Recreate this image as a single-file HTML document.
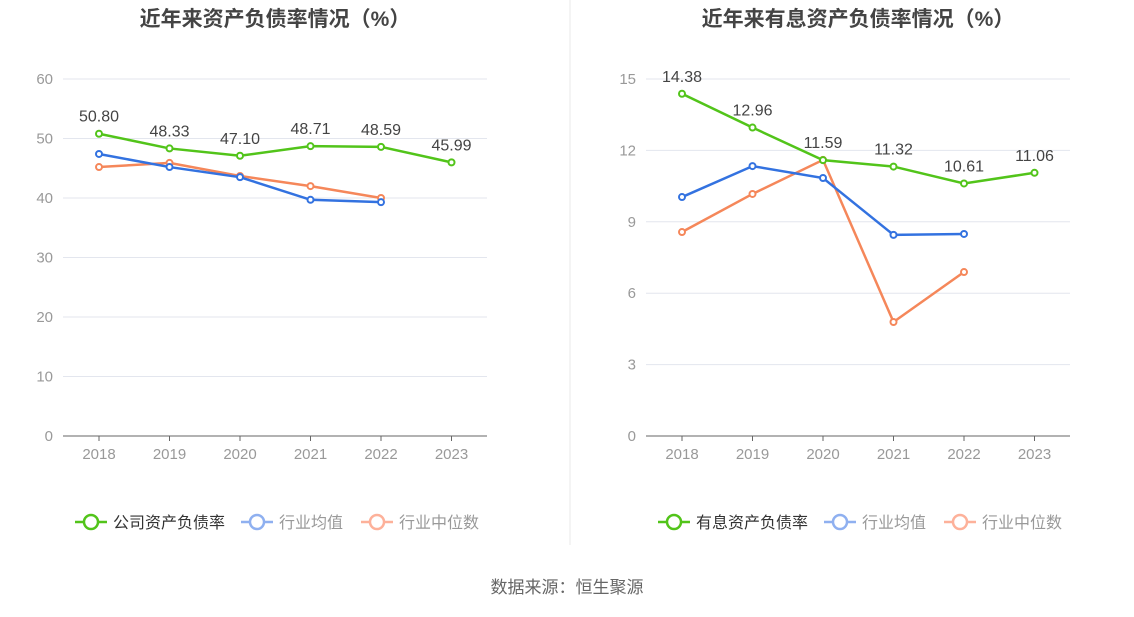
<!DOCTYPE html>
<html><head><meta charset="utf-8"><style>
body{margin:0;background:#fff;}
svg text{font-family:"Liberation Sans","Noto Sans CJK SC",sans-serif;}
</style></head><body>
<svg id="svg" width="1134" height="612" xmlns="http://www.w3.org/2000/svg">
<line x1="570" y1="0" x2="570" y2="545" stroke="#e8e8e8"/>
<text x="567" y="593" text-anchor="middle" font-size="17" fill="#666">数据来源：恒生聚源</text>
</svg>
<script>
const years=["2018","2019","2020","2021","2022","2023"];
const leftGreen=[50.80,48.33,47.10,48.71,48.59,45.99];
const leftBlue=[47.4,45.2,43.5,39.7,39.3];
const leftOrange=[45.2,45.9,43.7,42.0,40.0];
const leftTicks=[0,10,20,30,40,50,60];
const rightGreen=[14.38,12.96,11.59,11.32,10.61,11.06];
const rightBlue=[10.04,11.34,10.84,8.45,8.49];
const rightOrange=[8.57,10.17,11.6,4.79,6.89];
const rightTicks=[0,3,6,9,12,15];
const NS="http://www.w3.org/2000/svg";
const svg=document.getElementById('svg');
function mk(tag,attrs,parent){const e=document.createElementNS(NS,tag);for(const k in attrs)e.setAttribute(k,attrs[k]);(parent||svg).appendChild(e);return e;}
function chart(cfg){
  const g=mk('g',{});
  
  
  const x0=cfg.left,x1=cfg.left+424,yB=436,yT=79,max=cfg.ticks[cfg.ticks.length-1];
  const xs=i=>cfg.left+36+i*70.5;
  const ys=v=>yB-(v/max)*(yB-yT);
  const t=mk('text',{x:cfg.left+212,y:26,'text-anchor':'middle','font-size':21,'font-weight':'bold',fill:'#444'},g);
  t.textContent=cfg.title;
  
  
  cfg.ticks.forEach(v=>{
    if(v>0){const l=mk('line',{x1:x0,x2:x1,y1:ys(v),y2:ys(v),stroke:'#e3e6ee'},g);
    
    }
    const tt=mk('text',{x:x0-10,y:ys(v)+5,'text-anchor':'end','font-size':15,fill:'#999'},g);
    tt.textContent=v;
    
    
  });
  const ax=mk('line',{x1:x0,x2:x1,y1:yB,y2:yB,stroke:'#666'},g);
  
  
  years.forEach((y,i)=>{
    mk('line',{x1:xs(i),x2:xs(i),y1:yB,y2:yB+5,stroke:'#666'},g);
    const tt=mk('text',{x:xs(i),y:yB+23,'text-anchor':'middle','font-size':15,fill:'#999'},g);
    tt.textContent=y;
    
    
  });
  const series=[[cfg.orange,'#f5875a','orange'],[cfg.blue,'#3372e0','blue'],[cfg.green,'#52c41a','green']];
  series.forEach(([d,c,n])=>{
    const p=mk('polyline',{points:d.map((v,i)=>xs(i)+','+ys(v)).join(' '),fill:'none',stroke:c,'stroke-width':2.5},g);
    
    
    d.forEach((v,i)=>{
      const c2=mk('circle',{cx:xs(i),cy:ys(v),r:3,fill:'#fff',stroke:c,'stroke-width':2},g);
      
      
    });
  });
  cfg.green.forEach((v,i)=>{
    const tt=mk('text',{x:xs(i),y:ys(v)-12,'text-anchor':'middle','font-size':16,fill:'#444'},g);
    tt.textContent=v.toFixed(2);
    
    
  });
  const leg=[[cfg.legend,'#52c41a','#333',cfg.left+12],['行业均值','#8fb0f0','#999',cfg.left+178],['行业中位数','#fdb19a','#999',cfg.left+298]];
  leg.forEach(([lab,c,tc,lx])=>{
    const lg=mk('g',{},g);
    
    
    mk('line',{x1:lx,x2:lx+32,y1:522,y2:522,stroke:c,'stroke-width':2.5},lg);
    mk('circle',{cx:lx+16,cy:522,r:7,fill:'#fff',stroke:c,'stroke-width':2.5},lg);
    const tt=mk('text',{x:lx+38,y:528,'font-size':16,fill:tc},lg);
    tt.textContent=lab;
  });
}
chart({name:'left-chart',left:63,title:'近年来资产负债率情况（%）',ticks:leftTicks,green:leftGreen,blue:leftBlue,orange:leftOrange,legend:'公司资产负债率'});
chart({name:'right-chart',left:646,title:'近年来有息资产负债率情况（%）',ticks:rightTicks,green:rightGreen,blue:rightBlue,orange:rightOrange,legend:'有息资产负债率'});
</script>
</body></html>
